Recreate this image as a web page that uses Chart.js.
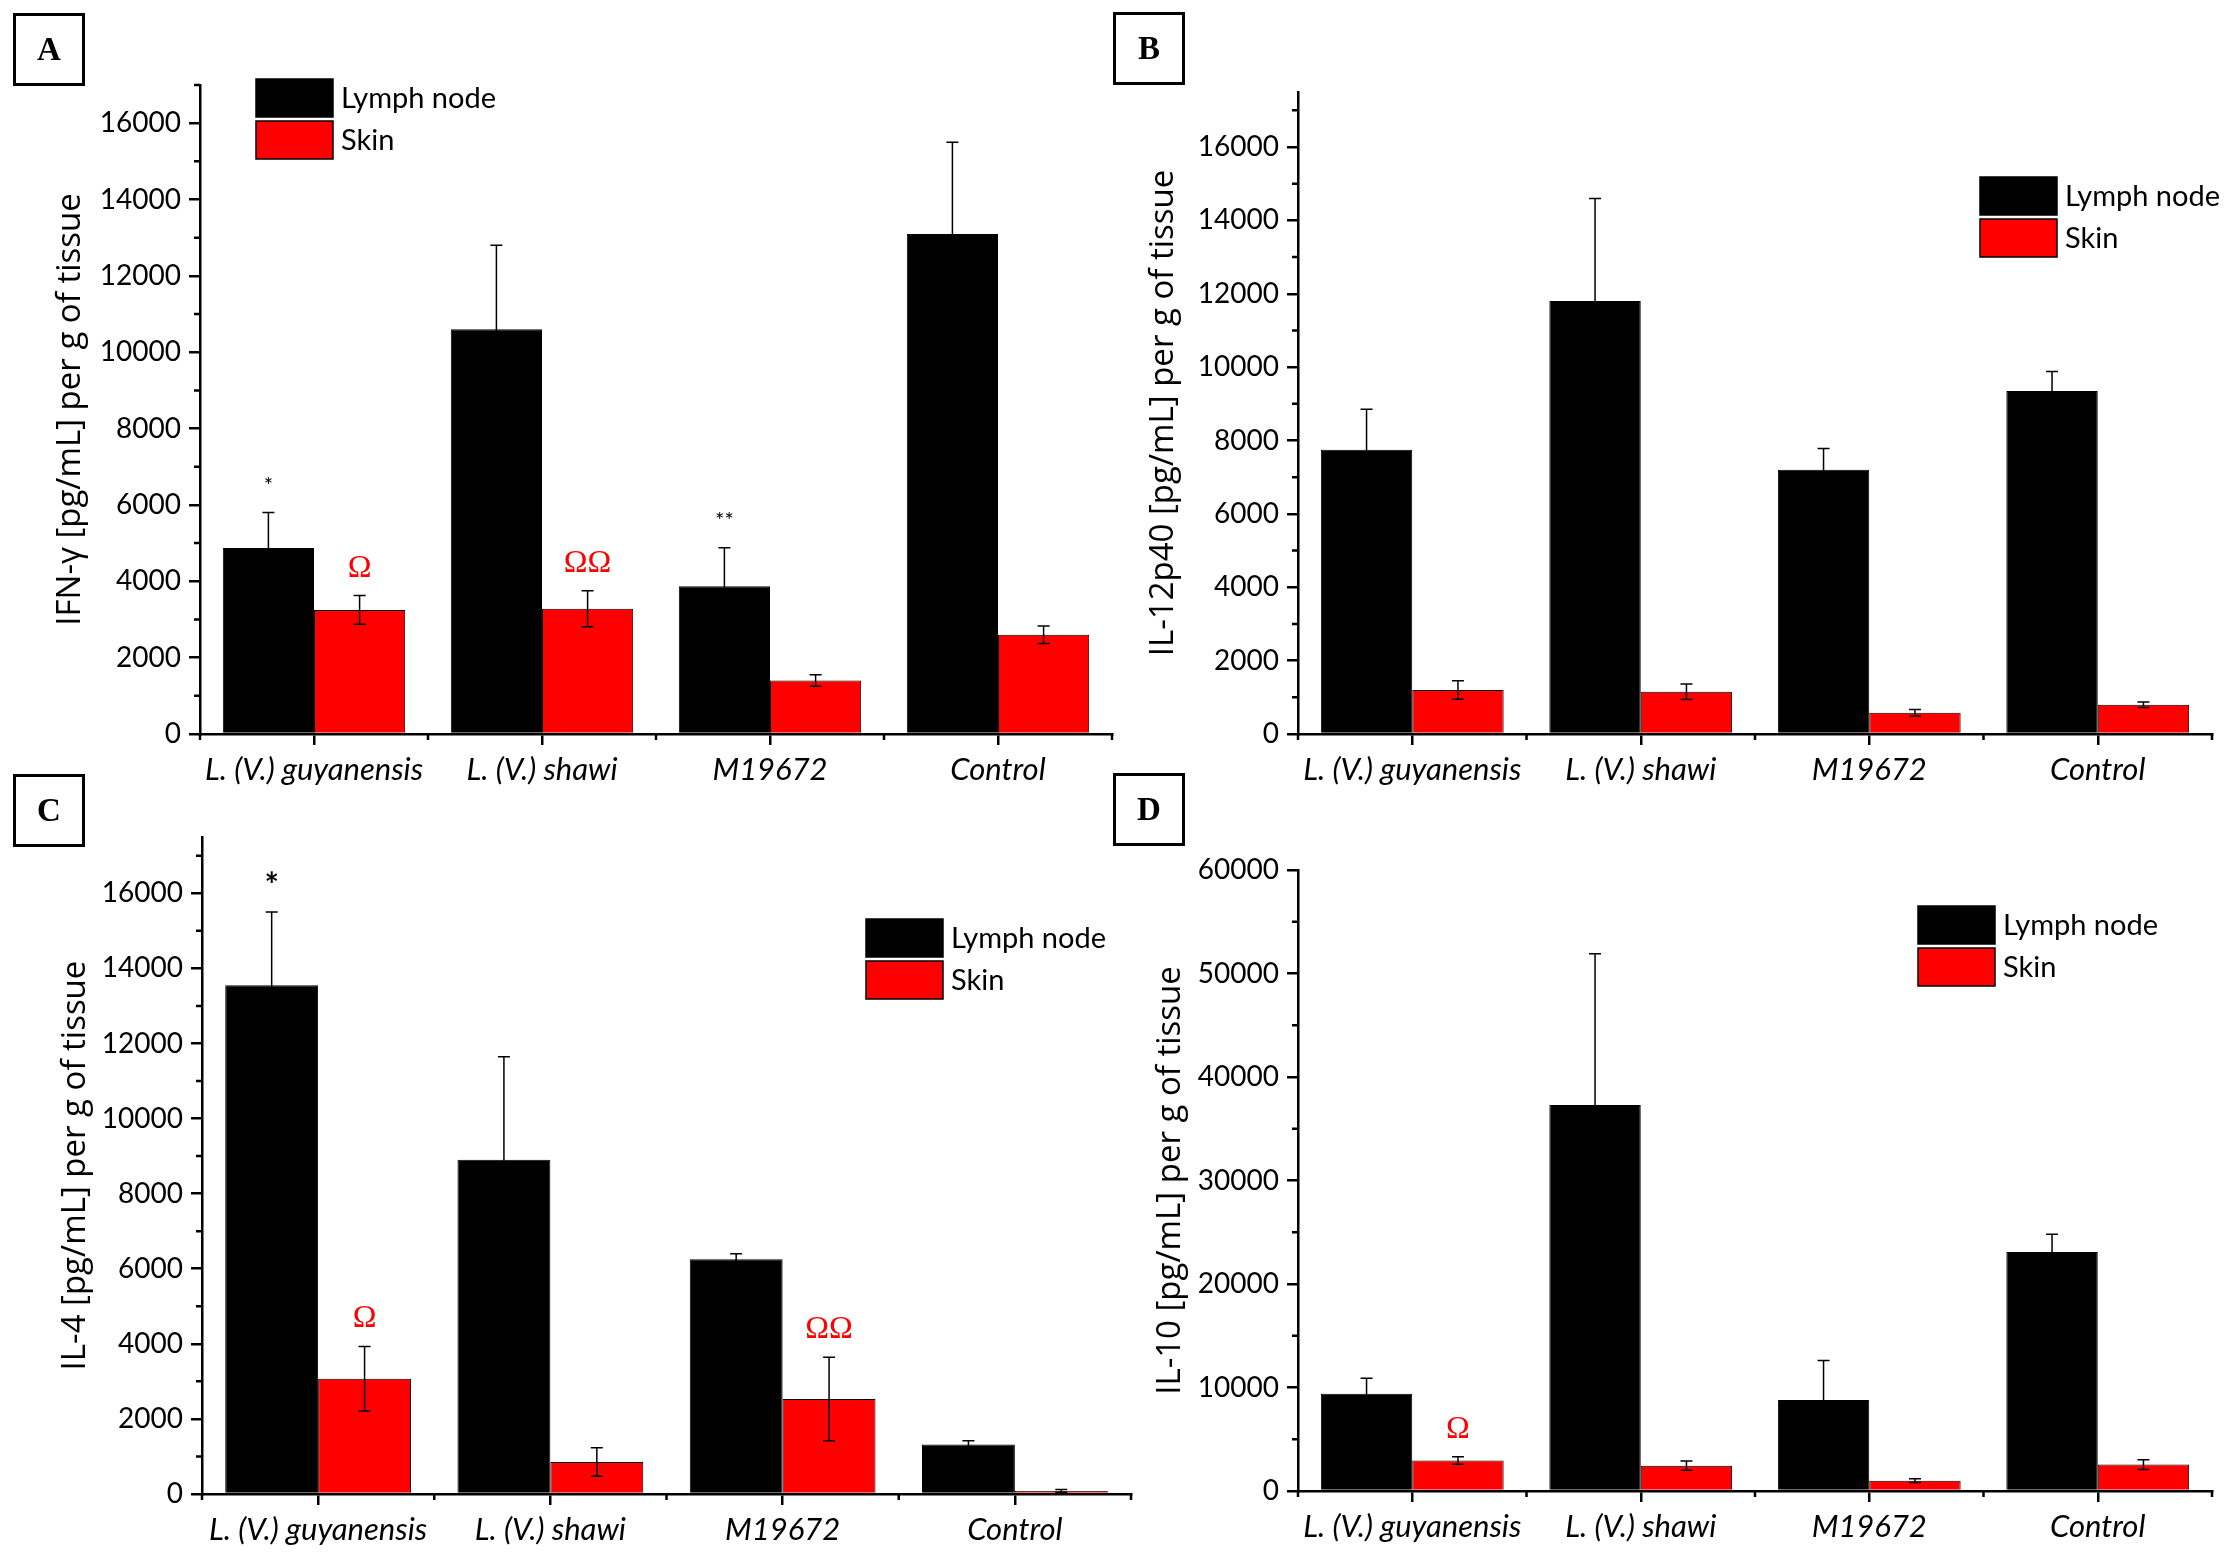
<!DOCTYPE html>
<html>
<head>
<meta charset="utf-8">
<script src="https://cdn.jsdelivr.net/npm/chart.js@4.4.1/dist/chart.umd.min.js"></script>
<style>
  body { margin: 0; background: #fff; }
  #page { position: relative; width: 2229px; height: 1555px; overflow: hidden; }
  .panel { position: absolute; left: 0; top: 0; width: 2229px; height: 1555px; }
  .tag {
    position: absolute; width: 66px; height: 67px; border: 3px solid #000;
    font: bold 33px "Liberation Serif", serif; color: #000;
    display: flex; align-items: center; justify-content: center;
  }
</style>
</head>
<body>
<div id="page">
  <div class="panel"><canvas id="chartA"></canvas></div>
  <div class="panel"><canvas id="chartB"></canvas></div>
  <div class="panel"><canvas id="chartC"></canvas></div>
  <div class="panel"><canvas id="chartD"></canvas></div>
  <div class="tag" style="left:13px;top:13px">A</div>
  <div class="tag" style="left:1113px;top:12px">B</div>
  <div class="tag" style="left:13px;top:774px">C</div>
  <div class="tag" style="left:1113px;top:773px">D</div>
</div>
<script>
// categories and series
const groups = ['L. (V.) guyanensis', 'L. (V.) shawi', 'M19672', 'Control']
const seriesNames = ['Lymph node', 'Skin']

// A - IFN-gamma
const ifnLymph = [4870, 10600, 3870, 13100]
const ifnLymphErr = [930, 2200, 1010, 2400]
const ifnSkin = [3250, 3280, 1400, 2600]
const ifnSkinErr = [375, 470, 150, 230]
const ifnMarks = [[0, 0, '*'], [0, 1, 'Ω'], [1, 1, 'ΩΩ'], [2, 0, '**']]

// B - IL-12p40
const il12Lymph = [7750, 11800, 7200, 9350]
const il12LymphErr = [1100, 2800, 580, 530]
const il12Skin = [1200, 1150, 580, 800]
const il12SkinErr = [250, 210, 90, 75]
const il12Marks = []

// C - IL-4
const il4Lymph = [13550, 8900, 6250, 1320]
const il4LymphErr = [1950, 2750, 150, 100]
const il4Skin = [3070, 850, 2530, 80]
const il4SkinErr = [860, 380, 1110, 40]
const il4Marks = [[0, 0, '*'], [0, 1, 'Ω'], [2, 1, 'ΩΩ']]

// D - IL-10
const il10Lymph = [9400, 37300, 8800, 23100]
const il10LymphErr = [1500, 14600, 3800, 1700]
const il10Skin = [2950, 2450, 1000, 2550]
const il10SkinErr = [370, 450, 180, 470]
const il10Marks = [[0, 1, 'Ω']]

// y axis ranges / tick steps
const yMaxA = 17000, yMaxB = 17500, yMaxC = 17500, yMaxD = 60000
const majorSmall = 2000, minorSmall = 1000
const majorBig = 10000, minorBig = 5000

const W = 2229, H = 1555

// error bars, significance marks, minor ticks, legend
const decor = {
    id: 'decor',
    afterDatasetsDraw(chart, args, opts) {
        const ctx = chart.ctx
        const ys = chart.scales.y
        chart.data.datasets.forEach((ds, di) => {
            const meta = chart.getDatasetMeta(di)
            meta.data.forEach((bar, i) => {
                const v = ds.data[i], e = ds.errors[i]
                const yt = ys.getPixelForValue(v + e)
                const yb = ys.getPixelForValue(Math.max(0, v - e))
                ctx.save()
                ctx.strokeStyle = '#000'
                ctx.lineWidth = 1.5
                ctx.beginPath()
                ctx.moveTo(bar.x, yt); ctx.lineTo(bar.x, yb)
                ctx.moveTo(bar.x - 6, yt); ctx.lineTo(bar.x + 6, yt)
                ctx.moveTo(bar.x - 6, yb); ctx.lineTo(bar.x + 6, yb)
                ctx.stroke()
                ctx.restore()
            })
        })

        // significance marks above error bars
        opts.marks.forEach(([i, di, txt]) => {
            const ds = chart.data.datasets[di]
            const bar = chart.getDatasetMeta(di).data[i]
            const yt = ys.getPixelForValue(ds.data[i] + ds.errors[i])
            ctx.save()
            ctx.textAlign = 'center'
            ctx.textBaseline = 'alphabetic'
            if (txt.includes('Ω')) {
                ctx.fillStyle = '#ff0000'
                ctx.font = '32px "Liberation Serif"'
                ctx.fillText(txt, bar.x, yt - 19)
            } else {
                ctx.fillStyle = '#000'
                ctx.font = opts.starFont
                ctx.fillText(txt, bar.x, yt - opts.starGap)
            }
            ctx.restore()
        })
    },
    afterDraw(chart, args, opts) {
        const ctx = chart.ctx
        const ys = chart.scales.y, xs = chart.scales.x
        const area = chart.chartArea
        ctx.save()
        ctx.strokeStyle = '#000'
        ctx.lineWidth = 2.5
        ctx.beginPath()
        // minor y ticks
        for (let v = 0; v <= ys.max; v += opts.minor) {
            if (v % opts.major === 0) continue
            const py = ys.getPixelForValue(v)
            ctx.moveTo(area.left - 6, py); ctx.lineTo(area.left, py)
        }
        // x ticks at group boundaries
        const step = xs.getPixelForValue(1) - xs.getPixelForValue(0)
        for (let i = 0; i <= groups.length; i++) {
            const px = xs.getPixelForValue(0) - step / 2 + i * step
            ctx.moveTo(px, area.bottom); ctx.lineTo(px, area.bottom + 6)
        }
        ctx.stroke()

        // legend
        const lg = opts.legend
        chart.data.datasets.forEach((ds, di) => {
            const by = area.top + lg.dy + di * 42
            const bx = area.left + lg.dx
            ctx.fillStyle = ds.backgroundColor
            ctx.fillRect(bx, by, 77, 38)
            ctx.lineWidth = 1.5
            ctx.strokeRect(bx, by, 77, 38)
            ctx.fillStyle = '#000'
            ctx.font = '29px Lato'
            ctx.textBaseline = 'middle'
            ctx.textAlign = 'left'
            ctx.fillText(ds.label, bx + 85, by + 20)
        })
        ctx.restore()
    }
}

function makePanel(id, p) {
    const ctx = document.getElementById(id)
    return new Chart(ctx, {
        type: 'bar',
        data: {
            labels: groups,
            datasets: [
                { label: seriesNames[0], data: p.lymph, errors: p.lymphErr, backgroundColor: '#000000' },
                { label: seriesNames[1], data: p.skin, errors: p.skinErr, backgroundColor: '#ff0000' }
            ].map(d => Object.assign(d, {
                borderColor: '#000', borderWidth: 1, categoryPercentage: 0.8, barPercentage: 1.0
            }))
        },
        options: {
            responsive: true,
            maintainAspectRatio: false,
            animation: false,
            layout: {
                padding: { left: p.boxLeft, right: W - p.R, top: p.T, bottom: H - p.boxBottom }
            },
            plugins: {
                legend: { display: false },
                tooltip: { enabled: false },
                decor: {
                    marks: p.marks, legend: p.legend, major: p.major, minor: p.minor,
                    starFont: p.starFont, starGap: p.starGap
                }
            },
            scales: {
                x: {
                    grid: { display: true, drawOnChartArea: false, offset: false, tickLength: 11, color: '#000', lineWidth: 2.5 },
                    border: { display: true, color: '#000', width: 2.5 },
                    ticks: { color: '#000', padding: 6, maxRotation: 0, font: { family: 'Lato', size: 31, style: 'italic' } },
                    afterFit: s => { s.height = p.boxBottom - p.B }
                },
                y: {
                    min: 0,
                    max: p.max,
                    grid: { display: true, drawOnChartArea: false, tickLength: 11, color: '#000', lineWidth: 2.5 },
                    border: { display: true, color: '#000', width: 2.5 },
                    ticks: { color: '#000', padding: 8, font: { family: 'Lato', size: 28 }, callback: v => String(v) },
                    afterBuildTicks: s => {
                        const t = []
                        for (let v = 0; v <= p.max; v += p.major) t.push({ value: v })
                        s.ticks = t
                    },
                    title: {
                        display: true, text: p.title, color: '#000',
                        font: { family: 'Open Sans', size: 33 },
                        padding: { top: p.titlePad, bottom: 0 }
                    },
                    afterFit: s => { s.width = p.L - p.boxLeft }
                }
            }
        },
        plugins: [decor]
    })
}

makePanel('chartA', {
    lymph: ifnLymph, lymphErr: ifnLymphErr, skin: ifnSkin, skinErr: ifnSkinErr, marks: ifnMarks,
    title: 'IFN-γ [pg/mL] per g of tissue', max: yMaxA, major: majorSmall, minor: minorSmall,
    boxLeft: 0, boxBottom: 790, L: 200, R: 1112, T: 85, B: 734, titlePad: 51,
    legend: { dx: 56, dy: -6 }, starFont: '22px Lato', starGap: 20
})
makePanel('chartB', {
    lymph: il12Lymph, lymphErr: il12LymphErr, skin: il12Skin, skinErr: il12SkinErr, marks: il12Marks,
    title: 'IL-12p40 [pg/mL] per g of tissue', max: yMaxB, major: majorSmall, minor: minorSmall,
    boxLeft: 1114, boxBottom: 790, L: 1298, R: 2212, T: 92, B: 734, titlePad: 30,
    legend: { dx: 682, dy: 85 }, starFont: '22px Lato', starGap: 20
})
makePanel('chartC', {
    lymph: il4Lymph, lymphErr: il4LymphErr, skin: il4Skin, skinErr: il4SkinErr, marks: il4Marks,
    title: 'IL-4 [pg/mL] per g of tissue', max: yMaxC, major: majorSmall, minor: minorSmall,
    boxLeft: 0, boxBottom: 1555, L: 202, R: 1131, T: 837, B: 1494, titlePad: 56,
    legend: { dx: 664, dy: 82 }, starFont: 'bold 34px Lato', starGap: 15
})
makePanel('chartD', {
    lymph: il10Lymph, lymphErr: il10LymphErr, skin: il10Skin, skinErr: il10SkinErr, marks: il10Marks,
    title: 'IL-10 [pg/mL] per g of tissue', max: yMaxD, major: majorBig, minor: minorBig,
    boxLeft: 1114, boxBottom: 1555, L: 1298, R: 2212, T: 870, B: 1491, titlePad: 37,
    legend: { dx: 620, dy: 36 }, starFont: '22px Lato', starGap: 20
})
</script>
</body>
</html>
